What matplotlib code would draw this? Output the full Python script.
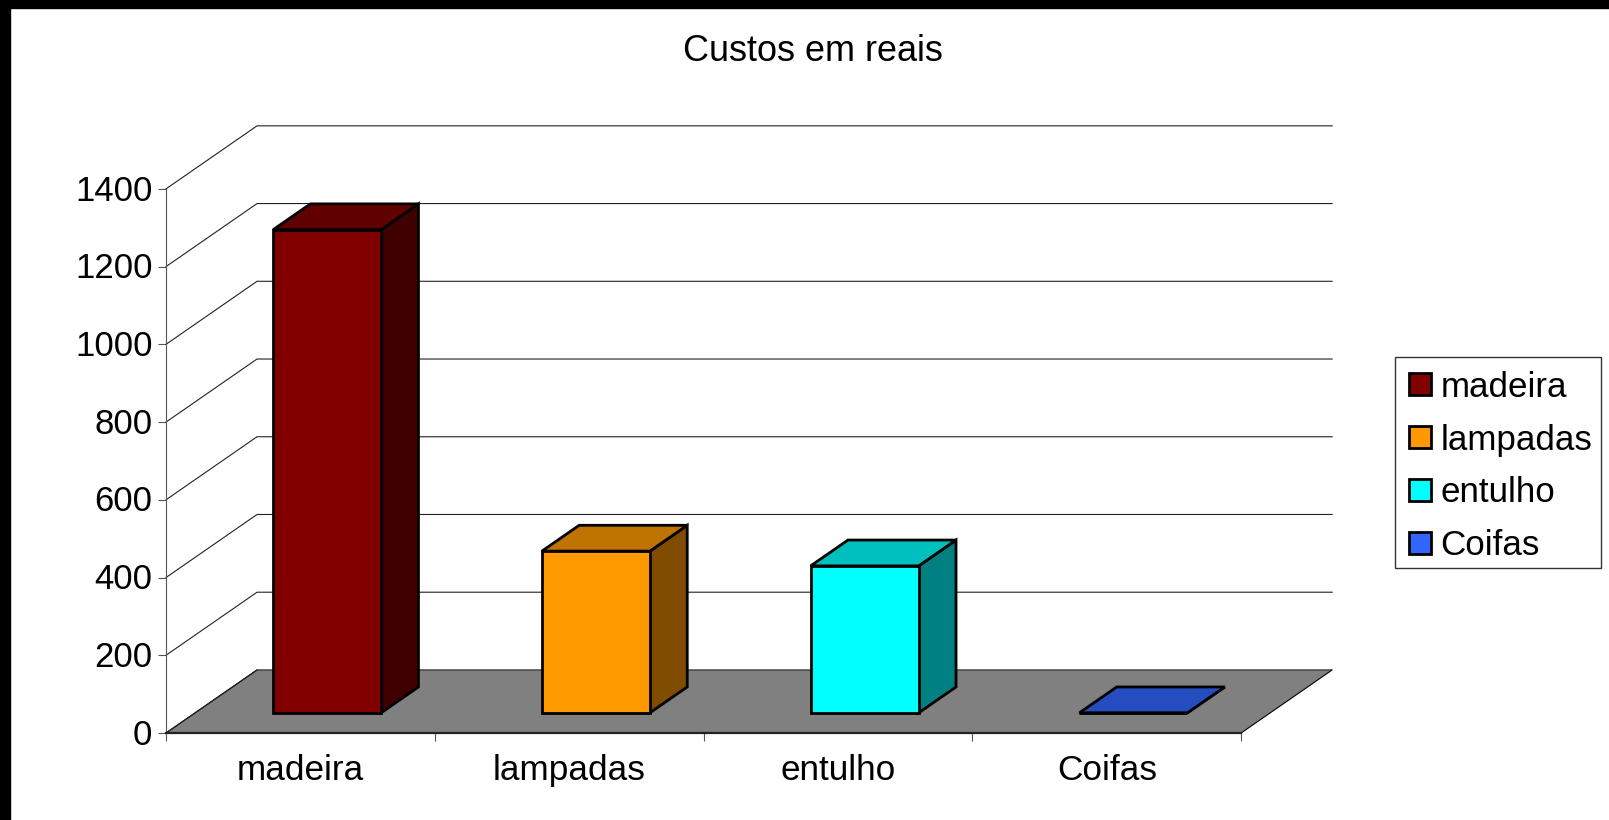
import matplotlib
matplotlib.use('Agg')
from matplotlib import pyplot as plt
from matplotlib.patches import Polygon, Rectangle
from matplotlib.transforms import ScaledTranslation

plt.rcParams['font.family'] = ['Liberation Sans', 'DejaVu Sans']

title = 'Custos em reais'
categories = ['madeira', 'lampadas', 'entulho', 'Coifas']
values = [1243, 416, 378, 0]
y_ticks = [0, 200, 400, 600, 800, 1000, 1200, 1400]
front_colors = ['#800000', '#FF9900', '#00FFFF', '#3366FF']
side_colors = ['#400000', '#804C00', '#008080', '#1A3380']
top_colors = ['#600000', '#BF7300', '#00BFBF', '#264DBF']

W, H = 1609, 820
# fake 3d: how far the back wall is shifted, in data units
DX = 91 / 268.75
DY = 63 / 0.3884
bar_left = 0.29
bar_width = 0.402
d_front = 0.32
d_back = 0.73

# the extra bit stops 8.2*100 being floored to 819
fig = plt.figure(figsize=((W + 0.2) / 100, (H + 0.2) / 100), dpi=100)
fig.patches.append(Rectangle((0, 0), 10 / W, 1, transform=fig.transFigure, color='black'))
fig.patches.append(Rectangle((0, 1 - 8 / H), 1, 8 / H, transform=fig.transFigure, color='black'))

ax = fig.add_axes([166 / W, (H - 733) / H, (1332 - 166) / W, (733 - 126) / H])
ax.set_xlim(0, 4 + DX)
ax.set_ylim(0, 1400 + DY)
ax.patch.set_visible(False)


def pr(x, v, d):
    return (x + d * DX, v + d * DY)


# floor
ax.add_patch(Polygon([pr(0, 0, 0), pr(4, 0, 0), pr(4, 0, 1), pr(0, 0, 1)],
                     facecolor='#808080', edgecolor='none', zorder=1))
ax.plot([0, DX], [0, DY], color='black', lw=0.8, zorder=2)
ax.plot([4, 4 + DX], [0, DY], color='black', lw=0.8, zorder=2)

# walls
for v in y_ticks:
    ax.plot([0, DX, 4 + DX], [v, v + DY, v + DY], color='#222222', lw=0.8, zorder=2, clip_on=False)

# bars
for i, (val, fc, sc, tc) in enumerate(zip(values, front_colors, side_colors, top_colors)):
    x0 = i + bar_left
    x1 = x0 + bar_width
    side = [pr(x1, 0, d_front), pr(x1, 0, d_back), pr(x1, val, d_back), pr(x1, val, d_front)]
    top = [pr(x0, val, d_front), pr(x1, val, d_front), pr(x1, val, d_back), pr(x0, val, d_back)]
    front = [pr(x0, 0, d_front), pr(x1, 0, d_front), pr(x1, val, d_front), pr(x0, val, d_front)]
    for pts, c in [(side, sc), (top, tc), (front, fc)]:
        ax.add_patch(Polygon(pts, facecolor=c, edgecolor='black', lw=2.0,
                             joinstyle='miter', zorder=3 + i))

# axes
for s in ['top', 'right']:
    ax.spines[s].set_visible(False)
ax.spines['left'].set_bounds(0, 1400)
ax.spines['left'].set_color('#555555')
ax.spines['bottom'].set_bounds(0, 4)
ax.spines['bottom'].set_color('#222222')
ax.spines['bottom'].set_linewidth(1.6)
ax.spines['bottom'].set_zorder(2.5)

ax.set_yticks(y_ticks)
ax.set_xticks([0, 1, 2, 3, 4])
ax.set_xticklabels([])
ax.set_xticks([i + 0.5 for i in range(4)], minor=True)
ax.set_xticklabels(categories, minor=True)
ax.tick_params(axis='y', length=5.8, width=0.8, color='#555555', pad=4.0, labelsize=25)
ax.tick_params(axis='x', which='major', length=5.8, width=0.8, color='#555555')
ax.tick_params(axis='x', which='minor', length=0, pad=15, labelsize=25.3)

# y labels sit a touch high in the original
up = ScaledTranslation(0, 1.5 / 100, fig.dpi_scale_trans)
for label in ax.get_yticklabels():
    label.set_transform(label.get_transform() + up)

fig.text(813 / W, 1 - 51.5 / H, title, ha='center', va='center', fontsize=25.9)

# legend frame drawn by hand, matplotlib's own comes out too tall at this spacing
fig.patches.append(Rectangle((1395 / W, 1 - 568 / H), 206 / W, 211 / H, transform=fig.transFigure,
                             facecolor='white', edgecolor='#333333', lw=1.0))
handles = [Rectangle((0, 0), 1, 1, facecolor=c, edgecolor='black', lw=2.0) for c in front_colors]
fig.legend(handles, categories, loc='upper left',
           bbox_to_anchor=(1395 / W, 1 - 356.5 / H), bbox_transform=fig.transFigure,
           fontsize=25.2, frameon=False,
           handlelength=0.63, handleheight=0.58, handletextpad=0.27, labelspacing=0.57,
           borderpad=0.4, borderaxespad=0)

fig.savefig('out.png', dpi=100)
